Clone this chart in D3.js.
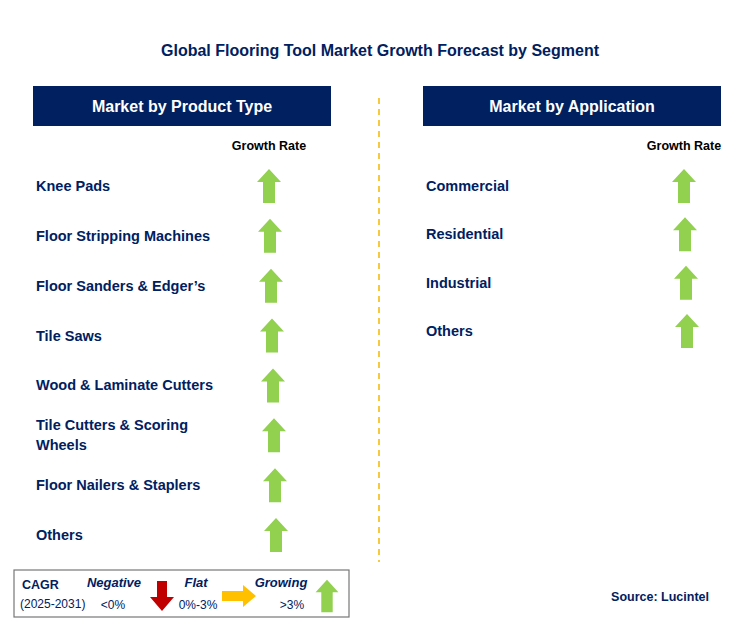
<!DOCTYPE html>
<html>
<head>
<meta charset="utf-8">
<script src="https://d3js.org/d3.v7.min.js"></script>
<style>
  body { margin: 0; background: #fff; }
  text { font-family: Arial, "Liberation Sans", sans-serif; }
</style>
</head>
<body>
<script>
  // data
  var productTypes = ["Knee Pads", "Floor Stripping Machines", "Floor Sanders & Edger\u2019s", "Tile Saws",
    "Wood & Laminate Cutters", "Tile Cutters & Scoring|Wheels", "Floor Nailers & Staplers", "Others"];
  var productGrowth = ["up", "up", "up", "up", "up", "up", "up", "up"];
  var applications = ["Commercial", "Residential", "Industrial", "Others"];
  var appGrowth = ["up", "up", "up", "up"];

  var w = 747, h = 635;
  var navy = "#002060", green = "#92d050";

  var svg = d3.select("body").append("svg").attr("width", w).attr("height", h);

  svg.append("text").attr("x", 380).attr("y", 56).attr("text-anchor", "middle")
    .attr("fill", navy).attr("font-weight", "bold").attr("font-size", 16)
    .text("Global Flooring Tool Market Growth Forecast by Segment");

  svg.append("line").attr("x1", 379).attr("x2", 379).attr("y1", 98).attr("y2", 562)
    .attr("stroke", "#f5b800").attr("stroke-width", 1.5).attr("stroke-dasharray", "6,5");

  // arrow path centred at 0,0 (height 34)
  function upArrow(g, color) {
    g.append("path").attr("d", "M0,-17 L12,-4 L6,-4 L6,17 L-6,17 L-6,-4 L-12,-4 Z").attr("fill", color);
  }

  function panel(x0, title, cats, vals, yScale, arrowX) {
    svg.append("rect").attr("x", x0).attr("y", 86).attr("width", 298).attr("height", 40).attr("fill", navy);
    svg.append("text").attr("x", x0 + 149).attr("y", 112).attr("text-anchor", "middle")
      .attr("fill", "#fff").attr("font-weight", "bold").attr("font-size", 16).text(title);
    svg.append("text").attr("x", arrowX).attr("y", 150).attr("text-anchor", "middle")
      .attr("fill", "#000").attr("font-weight", "bold").attr("font-size", 12.5).text("Growth Rate");

    var rows = svg.selectAll(null).data(cats).enter().append("g")
      .attr("transform", function(d) { return "translate(0," + yScale(d) + ")"; });
    rows.each(function(d, i) {
      var g = d3.select(this);
      var lines = d.split("|");
      lines.forEach(function(l, j) {
        g.append("text").attr("x", x0 + 3).attr("y", 5 + (j - (lines.length - 1) / 2) * 20)
          .attr("fill", navy).attr("font-weight", "bold").attr("font-size", 14.5).text(l);
      });
      if (vals[i] === "up") upArrow(g.append("g").attr("transform", "translate(" + (arrowX + i * 1) + ",0)"), green);
    });
  }

  var yLeft = d3.scalePoint().domain(productTypes).range([186, 535]);
  var yRight = d3.scalePoint().domain(applications).range([186, 331]);
  panel(33, "Market by Product Type", productTypes, productGrowth, yLeft, 269);
  panel(423, "Market by Application", applications, appGrowth, yRight, 684);

  // clip left labels at column edge like the reference
  svg.append("rect").attr("x", 213).attr("y", 170).attr("width", 40).attr("height", 380).attr("fill", "#fff");
  svg.selectAll("g > g").raise();

  // legend
  var lg = svg.append("g");
  lg.append("rect").attr("x", 14).attr("y", 570).attr("width", 335).attr("height", 47)
    .attr("fill", "#fff").attr("stroke", "#777").attr("stroke-width", 1.2);
  lg.append("text").attr("x", 22).attr("y", 589).attr("fill", navy).attr("font-weight", "bold").attr("font-size", 12.5).text("CAGR");
  lg.append("text").attr("x", 20).attr("y", 608).attr("fill", navy).attr("font-size", 12).text("(2025-2031)");
  [["Negative", 114, "<0%", 113], ["Flat", 196, "0%-3%", 198], ["Growing", 281, ">3%", 292]].forEach(function(d) {
    lg.append("text").attr("x", d[1]).attr("y", 587).attr("text-anchor", "middle").attr("fill", navy)
      .attr("font-weight", "bold").attr("font-style", "italic").attr("font-size", 13).text(d[0]);
    lg.append("text").attr("x", d[3]).attr("y", 609).attr("text-anchor", "middle").attr("fill", navy)
      .attr("font-size", 12).text(d[2]);
  });
  lg.append("path").attr("d", "M157,581 L167,581 L167,597 L174,597 L162,611 L150,597 L157,597 Z").attr("fill", "#c00000");
  lg.append("path").attr("d", "M222,591 L243,591 L243,585 L256,596 L243,607 L243,601 L222,601 Z").attr("fill", "#ffc000");
  upArrow(lg.append("g").attr("transform", "translate(327,596) scale(0.95)"), green);

  svg.append("text").attr("x", 709).attr("y", 601).attr("text-anchor", "end").attr("fill", navy)
    .attr("font-weight", "bold").attr("font-size", 12.5).text("Source: Lucintel");
</script>
</body>
</html>
